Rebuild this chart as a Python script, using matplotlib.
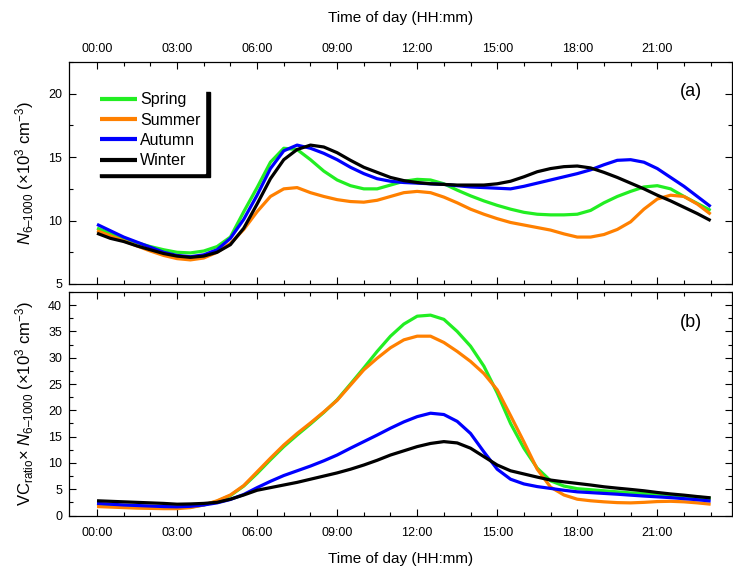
import matplotlib
matplotlib.use("Agg")
import matplotlib.pyplot as plt
import numpy as np

plt.rcParams["font.family"] = ["Liberation Sans", "DejaVu Sans"]
plt.rcParams["mathtext.fontset"] = "custom"
plt.rcParams["mathtext.rm"] = "Liberation Sans"
plt.rcParams["mathtext.it"] = "Liberation Sans:italic"

# half-hour grid, 00:00 .. 23:00
hours = np.arange(0, 23.01, 0.5)
tick_hours = [0, 3, 6, 9, 12, 15, 18, 21]
tick_labels = ["00:00", "03:00", "06:00", "09:00", "12:00", "15:00", "18:00", "21:00"]
seasons = ["Spring", "Summer", "Autumn", "Winter"]
colors = {"Spring": "#22ee22", "Summer": "#ff8000", "Autumn": "#0000ff", "Winter": "#000000"}

# (a) N6-1000, x10^3 cm^-3
spring_a = [9.4, 9.0, 8.6, 8.25, 7.95, 7.7, 7.5, 7.45, 7.6, 7.95, 8.7, 10.7, 12.6, 14.6,
            15.7, 15.6, 14.8, 13.9, 13.2, 12.75, 12.5, 12.5, 12.8, 13.1, 13.25, 13.2, 12.9,
            12.4, 11.95, 11.55, 11.2, 10.9, 10.65, 10.5, 10.45, 10.45, 10.5, 10.8, 11.4,
            11.9, 12.3, 12.65, 12.75, 12.5, 11.9, 11.35, 10.8]
summer_a = [9.2, 8.8, 8.4, 8.0, 7.6, 7.25, 7.0, 6.9, 7.05, 7.5, 8.2, 9.3, 10.7, 11.9,
            12.5, 12.6, 12.2, 11.9, 11.65, 11.5, 11.45, 11.6, 11.9, 12.2, 12.3, 12.2,
            11.85, 11.4, 10.9, 10.5, 10.15, 9.85, 9.65, 9.45, 9.25, 8.95, 8.7, 8.7, 8.9,
            9.3, 9.9, 10.9, 11.7, 12.0, 11.9, 11.3, 10.5]
autumn_a = [9.7, 9.2, 8.7, 8.3, 7.9, 7.5, 7.25, 7.15, 7.3, 7.7, 8.6, 10.1, 12.0, 14.1,
            15.5, 15.95, 15.7, 15.3, 14.8, 14.2, 13.7, 13.3, 13.1, 13.0, 12.95, 12.9,
            12.85, 12.75, 12.65, 12.6, 12.55, 12.5, 12.7, 12.95, 13.2, 13.45, 13.7, 14.0,
            14.4, 14.75, 14.8, 14.6, 14.1, 13.4, 12.7, 11.9, 11.1]
winter_a = [9.0, 8.6, 8.35, 8.0, 7.7, 7.4, 7.2, 7.1, 7.2, 7.5, 8.1, 9.4, 11.3, 13.3,
            14.8, 15.6, 15.95, 15.8, 15.35, 14.75, 14.2, 13.8, 13.4, 13.15, 13.0, 12.9,
            12.85, 12.8, 12.8, 12.8, 12.9, 13.1, 13.45, 13.85, 14.1, 14.25, 14.3, 14.15,
            13.8, 13.4, 12.95, 12.5, 12.0, 11.55, 11.05, 10.55, 10.0]

# (b) VC_ratio x N6-1000, x10^3 cm^-3
spring_b = [2.2, 2.0, 1.85, 1.7, 1.6, 1.55, 1.5, 1.6, 2.0, 2.7, 3.8, 5.6, 8.0, 10.6,
            13.1, 15.3, 17.4, 19.6, 22.0, 25.0, 28.05, 31.2, 34.1, 36.4, 37.9, 38.1, 37.3,
            35.0, 32.2, 28.4, 23.3, 17.5, 12.8, 9.0, 6.6, 5.6, 5.1, 4.9, 4.7, 4.5, 4.3,
            4.2, 4.05, 3.9, 3.7, 3.5, 3.25]
summer_b = [1.7, 1.6, 1.5, 1.4, 1.35, 1.3, 1.3, 1.5, 2.0, 2.8, 3.9, 5.7, 8.3, 10.9,
            13.4, 15.6, 17.6, 19.7, 21.9, 24.8, 27.7, 29.9, 31.9, 33.4, 34.1, 34.1, 32.9,
            31.2, 29.3, 27.0, 23.9, 19.0, 14.0, 8.8, 5.4, 3.9, 3.1, 2.8, 2.6, 2.45, 2.4,
            2.5, 2.65, 2.7, 2.6, 2.4, 2.15]
autumn_b = [2.3, 2.15, 2.0, 1.9, 1.8, 1.7, 1.65, 1.75, 2.0, 2.4, 3.05, 4.0, 5.3, 6.5,
            7.6, 8.5, 9.4, 10.4, 11.5, 12.8, 14.05, 15.3, 16.6, 17.8, 18.8, 19.45, 19.2,
            17.9, 15.6, 12.1, 8.8, 6.9, 6.0, 5.5, 5.15, 4.8, 4.5, 4.35, 4.2, 4.05, 3.87,
            3.7, 3.55, 3.4, 3.2, 3.0, 2.75]
winter_b = [2.8, 2.7, 2.6, 2.5, 2.4, 2.3, 2.15, 2.2, 2.3, 2.5, 3.1, 3.9, 4.8, 5.3,
            5.8, 6.3, 6.9, 7.5, 8.1, 8.8, 9.6, 10.5, 11.5, 12.3, 13.1, 13.7, 14.05, 13.8,
            12.8, 11.2, 9.6, 8.5, 7.9, 7.3, 6.74, 6.4, 6.1, 5.8, 5.46, 5.2, 4.96, 4.7,
            4.38, 4.1, 3.87, 3.6, 3.36]

data_a = dict(zip(seasons, [spring_a, summer_a, autumn_a, winter_a]))
data_b = dict(zip(seasons, [spring_b, summer_b, autumn_b, winter_b]))

fig = plt.figure(figsize=(7.33, 5.76), dpi=100)
ax_a = fig.add_axes([69 / 733, 1 - 284 / 576, 663 / 733, 222 / 576])
ax_b = fig.add_axes([69 / 733, 1 - 515.5 / 576, 663 / 733, 223.5 / 576])

for ax, data in ((ax_a, data_a), (ax_b, data_b)):
    for s in seasons:
        ax.plot(hours, data[s], color=colors[s], lw=2.3, label=s,
                solid_capstyle="butt", solid_joinstyle="round")
    ax.set_xlim(-1.05, 23.8)
    ax.set_xticks(tick_hours)
    ax.set_xticks(np.arange(0, 24, 1), minor=True)
    ax.tick_params(which="both", direction="in", top=True, right=True,
                   width=0.8, labelsize=9, pad=5)
    ax.tick_params(which="major", length=5)
    ax.tick_params(which="minor", length=2.8)
    for sp in ax.spines.values():
        sp.set_linewidth(0.9)

N_LABEL = "$\\mathit{N}_{\\mathrm{6–1000}}$"
UNIT = "(×10$^{3}$ cm$^{-3}$)"

# panel (a)
ax_a.set_ylim(5, 22.5)
ax_a.set_yticks([5, 10, 15, 20])
ax_a.set_yticks(np.arange(5, 22.6, 2.5), minor=True)
ax_a.xaxis.tick_top()
ax_a.tick_params(which="both", bottom=True, top=True, labelbottom=False, labeltop=True)
ax_a.set_xticklabels(tick_labels)
ax_a.xaxis.set_label_position("top")
ax_a.set_xlabel("Time of day (HH:mm)", fontsize=11, labelpad=15)
ax_a.set_ylabel(N_LABEL + " " + UNIT, fontsize=12, labelpad=9)
ax_a.text(0.955, 0.865, "(a)", transform=ax_a.transAxes, fontsize=13,
          ha="right", va="center")

leg = ax_a.legend(loc="upper left", bbox_to_anchor=(0.04, 0.885), borderaxespad=0,
                  fontsize=11.5, handlelength=2.3, handletextpad=0.2, labelspacing=0.33,
                  borderpad=0.3, fancybox=False, framealpha=1, edgecolor="white",
                  shadow={"ox": 3.2, "oy": -3.2, "color": "black", "alpha": 1})
for ln in leg.get_lines():
    ln.set_linewidth(3.0)

# panel (b)
ax_b.set_ylim(0, 42.5)
ax_b.set_yticks(np.arange(0, 41, 5))
ax_b.set_yticks(np.arange(0, 42.6, 2.5), minor=True)
ax_b.set_xticklabels(tick_labels)
ax_b.tick_params(pad=8, axis="x")
ax_b.set_xlabel("Time of day (HH:mm)", fontsize=11, labelpad=10)
ax_b.set_ylabel("VC$_{\\mathrm{ratio}}$× " + N_LABEL + " " + UNIT,
                fontsize=12, labelpad=9)
ax_b.text(0.955, 0.865, "(b)", transform=ax_b.transAxes, fontsize=13,
          ha="right", va="center")

fig.savefig("out.png", dpi=100)
